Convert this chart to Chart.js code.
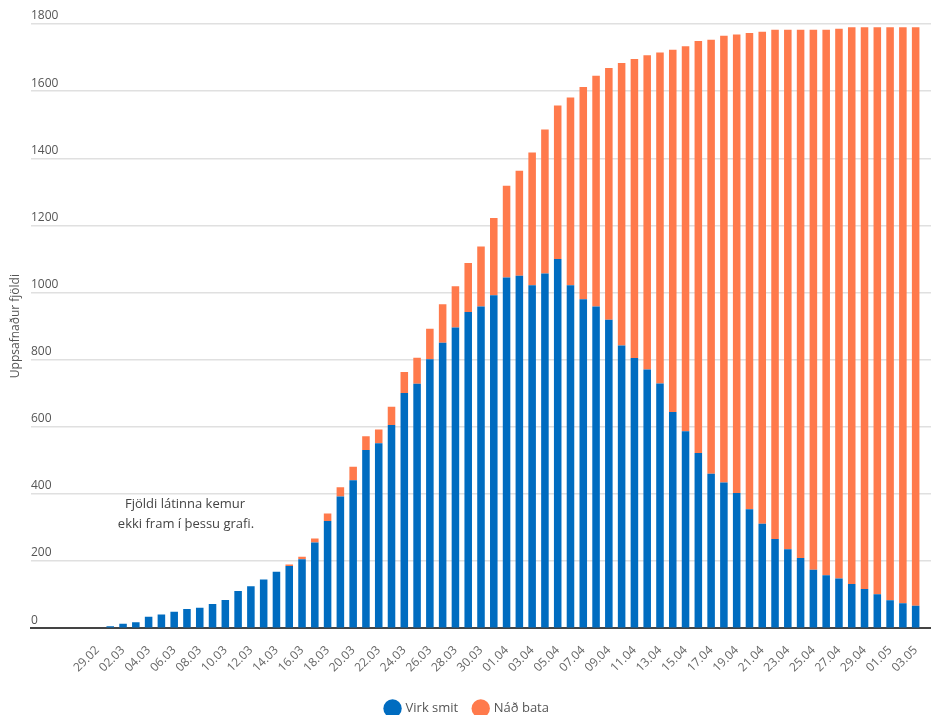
<!DOCTYPE html>
<html lang="is">
<head>
<meta charset="utf-8">
<title>Virk smit og náð bata</title>
<script src="https://cdn.jsdelivr.net/npm/chart.js@4.4.1/dist/chart.umd.min.js"></script>
<style>
  html, body { margin: 0; padding: 0; overflow: hidden; background: #fff; }
  #wrap { position: relative; width: 931px; height: 725px; }
</style>
</head>
<body>
<div id="wrap"><canvas id="smitChart"></canvas></div>
<script>
// Dagsetningar (29.02 - 03.05)
var dagsetningar = [
  '29.02',
  '01.03', '02.03', '03.03', '04.03', '05.03', '06.03', '07.03', '08.03', '09.03', '10.03',
  '11.03', '12.03', '13.03', '14.03', '15.03', '16.03', '17.03', '18.03', '19.03', '20.03',
  '21.03', '22.03', '23.03', '24.03', '25.03', '26.03', '27.03', '28.03', '29.03', '30.03', '31.03',
  '01.04', '02.04', '03.04', '04.04', '05.04', '06.04', '07.04', '08.04', '09.04', '10.04',
  '11.04', '12.04', '13.04', '14.04', '15.04', '16.04', '17.04', '18.04', '19.04', '20.04',
  '21.04', '22.04', '23.04', '24.04', '25.04', '26.04', '27.04', '28.04', '29.04', '30.04',
  '01.05', '02.05', '03.05'
];

// Virk smit
var virkSmit = [
  null,
  6, 13, 18, 34, 41, 49, 57, 61, 72, 84,
  111, 125, 145, 168, 185, 205, 255, 319, 392, 441,
  531, 551, 605, 701, 728, 801, 850, 896, 942, 958,
  992, 1045, 1050, 1022, 1057, 1100, 1022, 980, 958, 919,
  842, 805, 771, 729, 644, 587, 522, 460, 434, 403,
  354, 311, 266, 235, 209, 174, 158, 148, 132, 117,
  101, 83, 74, 67
];

// Náð bata
var nadBata = [
  null,
  0, 0, 0, 0, 0, 0, 0, 0, 0, 0,
  0, 0, 0, 0, 5, 8, 12, 23, 28, 40,
  41, 41, 55, 62, 78, 91, 115, 123, 146, 179,
  230, 273, 313, 395, 429, 457, 559, 632, 688, 750,
  842, 891, 936, 986, 1079, 1147, 1227, 1293, 1331, 1366,
  1419, 1466, 1517, 1548, 1574, 1609, 1625, 1638, 1658, 1673,
  1689, 1707, 1716, 1723
];

var leturgerd = '"Open Sans", "Noto Sans", sans-serif';

function punktar(gildi) {
  return gildi.map(function(v, i) { return { x: i, y: v }; });
}

// Athugasemd inni í grafinu
var athugasemd = {
  id: 'athugasemd',
  afterDatasetsDraw: function(chart) {
    var ctx = chart.ctx;
    var area = chart.chartArea;
    ctx.save();
    ctx.font = '13px ' + leturgerd;
    ctx.fillStyle = '#444';
    ctx.textAlign = 'center';
    ctx.textBaseline = 'middle';
    ctx.fillText('Fjöldi látinna kemur', area.left + 154, area.top + 480);
    ctx.fillText('ekki fram í þessu grafi.', area.left + 155, area.top + 500);
    ctx.restore();
  }
};

var ctx = document.getElementById('smitChart').getContext('2d');
var smitChart = new Chart(ctx, {
  type: 'bar',
  data: {
    datasets: [{
      label: 'Virk smit',
      data: punktar(virkSmit),
      backgroundColor: '#006cc0',
      stack: 'a',
      categoryPercentage: 1,
      barPercentage: 0.59
    }, {
      label: 'Náð bata',
      data: punktar(nadBata),
      backgroundColor: '#ff7a4c',
      stack: 'a',
      categoryPercentage: 1,
      barPercentage: 0.59
    }]
  },
  plugins: [athugasemd],
  options: {
    responsive: true,
    maintainAspectRatio: false,
    animation: false,
    layout: { padding: { top: 24, left: 4, right: 0, bottom: 0 } },
    plugins: {
      tooltip: { enabled: false },
      legend: {
        position: 'bottom',
        labels: {
          usePointStyle: true,
          pointStyle: 'circle',
          color: '#555',
          padding: 16,
          font: { family: leturgerd, size: 13 }
        }
      }
    },
    scales: {
      x: {
        type: 'linear',
        offset: false,
        min: -5.2,
        max: 65.2,
        grid: { display: false, offset: false },
        border: { display: true, color: '#444', width: 2 },
        afterBuildTicks: function(scale) {
          scale.ticks = dagsetningar
            .map(function(d, i) { return { value: i }; })
            .filter(function(t) { return t.value % 2 === 0; });
        },
        afterFit: function(scale) {
          scale.height += 4;
          scale.paddingLeft = 0;
          scale.paddingRight = 0;
        },
        ticks: {
          autoSkip: false,
          maxRotation: 45,
          minRotation: 45,
          padding: 7,
          color: '#666',
          font: { family: leturgerd, size: 12 },
          callback: function(value) { return dagsetningar[value]; }
        }
      },
      y: {
        stacked: true,
        min: 0,
        max: 1800,
        afterFit: function(scale) { scale.width = 27; },
        grid: { color: '#e0e0e0', lineWidth: 1.5, drawTicks: false },
        border: { display: false },
        ticks: {
          stepSize: 200,
          mirror: true,
          padding: 0,
          labelOffset: -8,
          color: '#555',
          font: { family: leturgerd, size: 12 },
          callback: function(value) { return String(value); }
        },
        title: {
          display: true,
          text: 'Uppsafnaður fjöldi',
          color: '#555',
          padding: { top: 4, bottom: 4 },
          font: { family: leturgerd, size: 12 }
        }
      }
    }
  }
});
</script>
</body>
</html>
